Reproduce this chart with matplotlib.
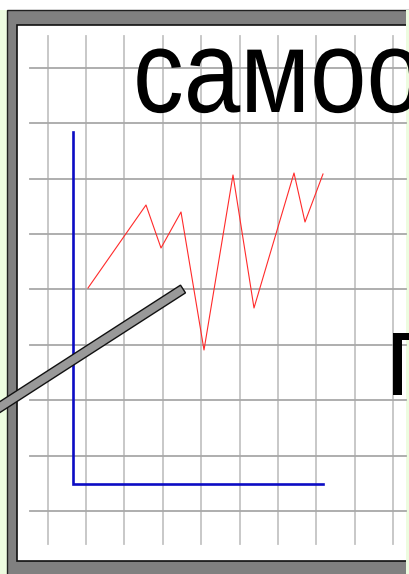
import numpy as np
import matplotlib.pyplot as plt
from matplotlib.patches import Rectangle, Polygon
from matplotlib.patheffects import AbstractPathEffect
from matplotlib.transforms import Affine2D

# red series, measured from the blue origin (x right, y up)
line_x = [15, 73, 88, 108, 131, 160, 181, 221, 232, 250]
line_y = [196, 279, 236, 272, 134, 309, 176, 311, 262, 310]

# blue axes lengths
axis_x_len = 250
axis_y_len = 352

# grid
grid_x = -25.3 + 38.4 * np.arange(10)
grid_y = 416.3 - 55.4 * np.arange(9)

title_text = 'самоо'
side_text = 'п'

ox, oy = 73, 484  # origin in pixels
green = '#edfce0'


def px(x, y):
    return x - ox, oy - y


class Squeeze(AbstractPathEffect):
    # narrows glyphs horizontally around the text anchor
    def __init__(self, x0, sx):
        super().__init__()
        self.x0, self.sx = x0, sx

    def draw_path(self, renderer, gc, tpath, affine, rgbFace=None):
        t = affine + Affine2D().translate(-self.x0, 0).scale(self.sx, 1).translate(self.x0, 0)
        renderer.draw_path(gc, tpath, t, rgbFace)


fig = plt.figure(figsize=(4.10, 5.74), dpi=100, facecolor='white')
ax = fig.add_axes([0, 0, 1, 1])
ax.set_xlim(-ox, 410 - ox)
ax.set_ylim(oy - 574, oy)
ax.axis('off')

# light green side strips
x0, y0 = px(-5, 600)
ax.add_patch(Rectangle((x0, y0), 13, 590, facecolor=green, edgecolor='none', zorder=0.5))
x0, y0 = px(406, 600)
ax.add_patch(Rectangle((x0, y0), 20, 590, facecolor=green, edgecolor='none', zorder=1.2))

# board frame
x0, y0 = px(7, 600)
ax.add_patch(Rectangle((x0, y0), 406 - 7 + 20, 600 - 9.7, facecolor='#808080',
                       edgecolor='#202020', lw=1.0, zorder=1))
x0, y0 = px(17, 560.7)
ax.add_patch(Rectangle((x0, y0), 406 - 17 + 20, 560.7 - 24.7, facecolor='white',
                       edgecolor='#101010', lw=1.2, zorder=1.1))

# grid lines
for gx in grid_x:
    ax.plot([gx, gx], [oy - 36, oy - 544], color='#c4c4c4', lw=1.3, zorder=2)
for gy in grid_y:
    ax.plot([30 - ox, 406 - ox], [gy, gy], color='#a8a8a8', lw=1.3, zorder=2.1)

# blue axes
ax.plot([0, 0, axis_x_len], [axis_y_len, 0, 0], color='#0c0cc4', lw=1.9,
        solid_joinstyle='miter', zorder=3)

# red line
ax.plot(line_x, line_y, color='#ff2a2a', lw=0.8, zorder=4)

# pointer stick
p0 = np.array([-30.0, 407 + 30 * 118 / 183])
p1 = np.array([183.0, 289.0])
d = (p1 - p0) / np.linalg.norm(p1 - p0)
n = np.array([-d[1], d[0]]) * 4.6
corners = [p0 + n, p1 + n, p1 - n, p0 - n]
ax.add_patch(Polygon([px(*c) for c in corners], closed=True, facecolor='#999999',
                     edgecolor='#111111', lw=1.0, zorder=5))

# texts
sx = 0.86
for txt, (tx, ty) in [(title_text, px(133, 112)), (side_text, px(386, 395))]:
    x_disp = ax.transData.transform((tx, ty))[0]
    ax.text(tx, ty, txt, fontsize=85, family='Liberation Sans',
            ha='left', va='baseline', color='black', zorder=6,
            path_effects=[Squeeze(x_disp, sx)])

fig.savefig('out.png', dpi=100, facecolor=fig.get_facecolor())
